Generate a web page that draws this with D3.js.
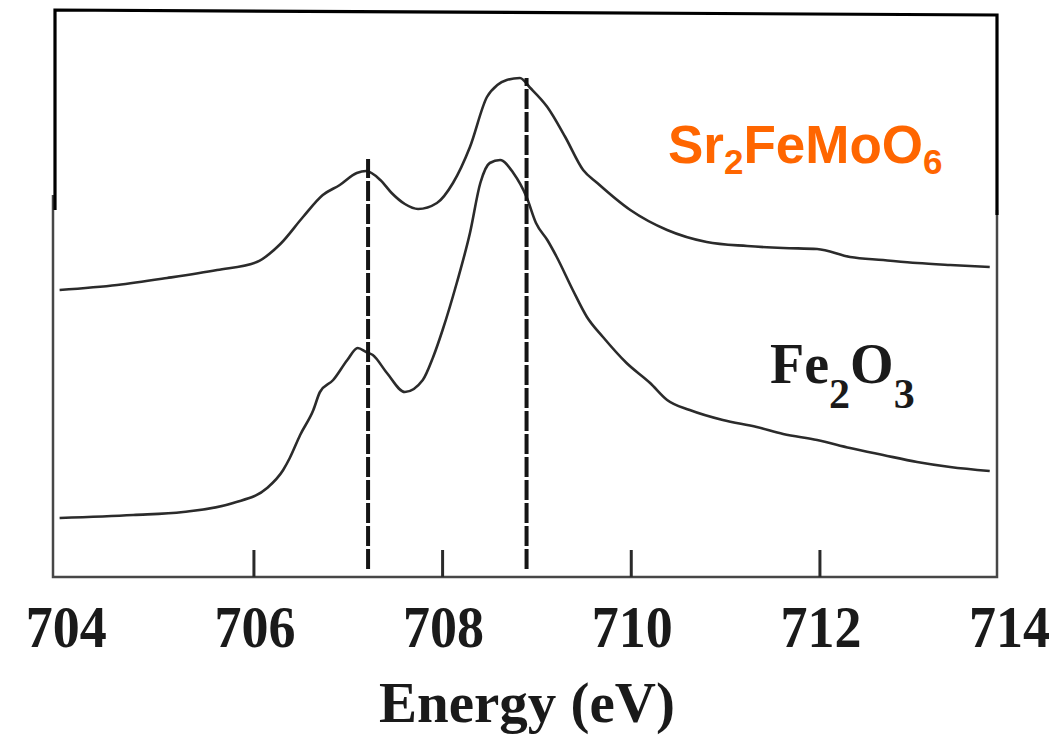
<!DOCTYPE html>
<html>
<head>
<meta charset="utf-8">
<script src="https://cdn.jsdelivr.net/npm/d3@7"></script>
<style>
  html, body { margin: 0; padding: 0; background: #fff; }
  svg { display: block; }
</style>
</head>
<body>
<svg id="chart" width="1054" height="737"></svg>
<script>
// Fe L3-edge XAS spectra (energy in eV, intensity in arbitrary units)
const energySFMO = [703.94, 704.55, 705.08, 705.61, 706.03, 706.28, 706.52, 706.73, 706.91, 707.09,
  707.19, 707.34, 707.46, 707.60, 707.74, 707.94, 708.11, 708.29, 708.47, 708.58, 708.68, 708.82,
  708.93, 709.11, 709.30, 709.49, 709.64, 709.99, 710.38, 710.80, 711.23, 711.61, 711.97, 712.32,
  712.67, 713.03, 713.38, 713.80];
const intensitySFMO = [287, 292, 299, 307, 315, 333, 360, 382, 392, 404,
  406, 397, 384, 373, 368, 374, 394, 430, 480, 492, 497, 499,
  489, 470, 440, 407, 394, 367, 347, 335, 331, 329, 328, 320,
  317, 314, 312, 310];

const energyFe2O3 = [703.94, 704.72, 705.25, 705.78, 706.14, 706.31, 706.38, 706.49, 706.63, 706.70,
  706.84, 706.99, 707.10, 707.19, 707.26, 707.41, 707.60, 707.79, 707.90, 708.00, 708.15, 708.29,
  708.40, 708.50, 708.61, 708.75, 708.89, 708.99, 709.11, 709.21, 709.38, 709.53, 709.70, 709.95,
  710.20, 710.38, 710.62, 710.97, 711.33, 711.61, 711.97, 712.32, 712.67, 713.03, 713.38, 713.80];
const intensityFe2O3 = [59, 62, 65, 74, 89, 107, 119, 142, 167, 185,
  197, 217, 229, 225, 222, 204, 185, 197, 220, 247, 294, 344,
  394, 414, 417, 404, 380, 354, 337, 320, 287, 260, 240, 214,
  194, 177, 167, 157, 150, 143, 137, 129, 122, 115, 110, 106];

// Peak markers (eV) and the intensity each dashed guide reaches up to
const peakEnergies = [707.21, 708.89];
const peakTops = [418, 499];
const guideBottom = 8;

const tickValues = [704, 706, 708, 710, 712, 714];
const tickMarks = [706, 708, 710, 712];
const xLabel = "Energy (eV)";

const svg = d3.select("#chart");

const plot = { left: 53, right: 997, top: 10, bottom: 577 };

const x = d3.scaleLinear().domain([703.87, 713.877]).range([plot.left, plot.right]);
const y = d3.scaleLinear().domain([0, 567]).range([plot.bottom, plot.top]);

// Lower frame (grey) of the spectrum panel
svg.append("path")
  .attr("d", `M${plot.left},195 L${plot.left},${plot.bottom} L${plot.right},${plot.bottom} L${plot.right},210`)
  .attr("fill", "none")
  .attr("stroke", "#474747")
  .attr("stroke-width", 2.5);

// Upper black bracket around the top of the panel
svg.append("path")
  .attr("d", `M55,210 L55,10 L997,15 L997,215`)
  .attr("fill", "none")
  .attr("stroke", "#000")
  .attr("stroke-width", 3.2);

// Inner tick marks
svg.append("g")
  .selectAll("line")
  .data(tickMarks)
  .join("line")
  .attr("x1", d => x(d)).attr("x2", d => x(d))
  .attr("y1", plot.bottom).attr("y2", plot.bottom - 27)
  .attr("stroke", "#2a2a2a")
  .attr("stroke-width", 3);

// Tick labels (slightly condensed bold serif)
svg.append("g")
  .selectAll("text")
  .data(tickValues)
  .join("text")
  .attr("transform", d => `translate(${x(d) + 1},647) scale(0.9,1)`)
  .attr("text-anchor", "middle")
  .attr("font-family", "'Liberation Serif', 'Times New Roman', serif")
  .attr("font-weight", "bold")
  .attr("font-size", 60)
  .attr("fill", "#1a1a1a")
  .text(d => d);

svg.append("text")
  .attr("x", (x(708) + x(710)) / 2 - 10)
  .attr("y", 722)
  .attr("text-anchor", "middle")
  .attr("font-family", "'Liberation Serif', 'Times New Roman', serif")
  .attr("font-weight", "bold")
  .attr("font-size", 57)
  .attr("fill", "#1a1a1a")
  .text(xLabel);

// Spectra
const line = d3.line()
  .x(d => x(d[0]))
  .y(d => y(d[1]))
  .curve(d3.curveMonotoneX);

const spectra = [
  d3.zip(energySFMO, intensitySFMO),
  d3.zip(energyFe2O3, intensityFe2O3)
];

svg.append("g")
  .selectAll("path")
  .data(spectra)
  .join("path")
  .attr("d", line)
  .attr("fill", "none")
  .attr("stroke", "#2b2b2b")
  .attr("stroke-width", 2.6)
  .attr("stroke-linejoin", "round");

// Dashed peak guides
svg.append("g")
  .selectAll("line")
  .data(peakEnergies)
  .join("line")
  .attr("x1", d => x(d)).attr("x2", d => x(d))
  .attr("y1", y(guideBottom))
  .attr("y2", (d, i) => y(peakTops[i]))
  .attr("stroke", "#151515")
  .attr("stroke-width", 4)
  .attr("stroke-dasharray", "20,3");

// Compound labels
const sfmo = svg.append("text")
  .attr("x", 668)
  .attr("y", 163)
  .attr("font-family", "'Liberation Sans', Arial, sans-serif")
  .attr("font-weight", "bold")
  .attr("font-size", 53)
  .attr("fill", "#ff6600");
sfmo.append("tspan").text("Sr");
sfmo.append("tspan").attr("font-size", 35).attr("dy", 11).text("2");
sfmo.append("tspan").attr("dy", -11).text("FeMoO");
sfmo.append("tspan").attr("font-size", 35).attr("dy", 11).text("6");

const hem = svg.append("text")
  .attr("x", 770)
  .attr("y", 383)
  .attr("font-family", "'Liberation Serif', 'Times New Roman', serif")
  .attr("font-weight", "bold")
  .attr("font-size", 56)
  .attr("fill", "#1a1a1a");
hem.append("tspan").text("Fe");
hem.append("tspan").attr("font-size", 42).attr("dy", 25).text("2");
hem.append("tspan").attr("dy", -25).text("O");
hem.append("tspan").attr("font-size", 42).attr("dy", 25).text("3");
</script>
</body>
</html>
